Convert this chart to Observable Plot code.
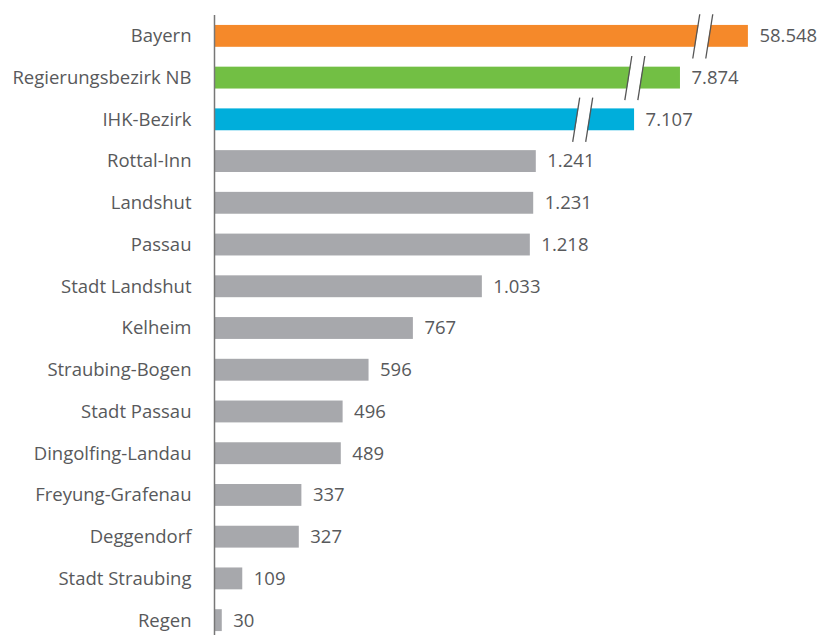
<!DOCTYPE html>
<html><head><meta charset="utf-8">
<script src="https://cdn.jsdelivr.net/npm/d3@7"></script>
<script src="https://cdn.jsdelivr.net/npm/@observablehq/plot@0.6"></script>
<style>body{margin:0;background:#fff;} svg{display:block;}</style>
</head><body><div id="chart"></div>
<script>
const categories = ["Bayern","Regierungsbezirk NB","IHK-Bezirk","Rottal-Inn","Landshut","Passau","Stadt Landshut","Kelheim","Straubing-Bogen","Stadt Passau","Dingolfing-Landau","Freyung-Grafenau","Deggendorf","Stadt Straubing","Regen"];
const values = [58548,7874,7107,1241,1231,1218,1033,767,596,496,489,337,327,109,30];
// truncated bar lengths shown for the broken (axis-break) bars; null = true length
const shownLength = [2059,1797,1620,null,null,null,null,null,null,null,null,null,null,null,null];
const colors = ["#F5892A","#72BF44","#00AEDB"];
const grey = "#A7A8AC";

const data = categories.map((c,i)=>({
  i, name:c, value:values[i],
  len: shownLength[i] ?? values[i],
  fill: colors[i] ?? grey,
  label: d3.format(",")(values[i]).replace(/,/g,".")
}));
const broken = data.filter(d=>shownLength[d.i]!=null).map(d=>({...d, brk: d.len-(d.i===2?200:176)}));
const font = "'Open Sans', sans-serif";
const chart = Plot.plot({
  width:820, height:635,
  marginLeft:214, marginRight:0, marginTop:15, marginBottom:0,
  style:{fontFamily:font, fontSize:"18.5px", color:"#58595b", background:"#fff"},
  x:{domain:[0,2350], range:[214,214+2350*0.2593], axis:null},
  y:{domain:[-0.5,14.5], range:[15,641], axis:null},
  marks:[
    Plot.rectX(data,{x1:0, x2:"len", y1:d=>d.i-0.262, y2:d=>d.i+0.262, fill:"fill"}),
    Plot.link(broken,{x1:d=>d.brk-13.5, x2:d=>d.brk+13.5, y1:d=>d.i+0.53, y2:d=>d.i-0.53, stroke:"#fff", strokeWidth:12, strokeLinecap:"butt"}),
    Plot.link(broken,{x1:d=>d.brk-13.5, x2:d=>d.brk+13.5, y1:d=>d.i+0.53, y2:d=>d.i-0.53, stroke:"#555", strokeWidth:1.3, dx:-6.5}),
    Plot.link(broken,{x1:d=>d.brk-13.5, x2:d=>d.brk+13.5, y1:d=>d.i+0.53, y2:d=>d.i-0.53, stroke:"#555", strokeWidth:1.3, dx:6.5}),
    Plot.ruleX([0],{y1:-0.5, y2:14.5, stroke:"#777", strokeWidth:1.5}),
    Plot.text(data,{x:"len", y:"i", text:"label", dx:11, textAnchor:"start", fill:"#58595b", fontSize:18.5}),
    Plot.text(data,{x:0, y:"i", text:"name", dx:-23, textAnchor:"end", fill:"#58595b", fontSize:18.5})
  ]
});
document.getElementById("chart").appendChild(chart);
</script></body></html>
